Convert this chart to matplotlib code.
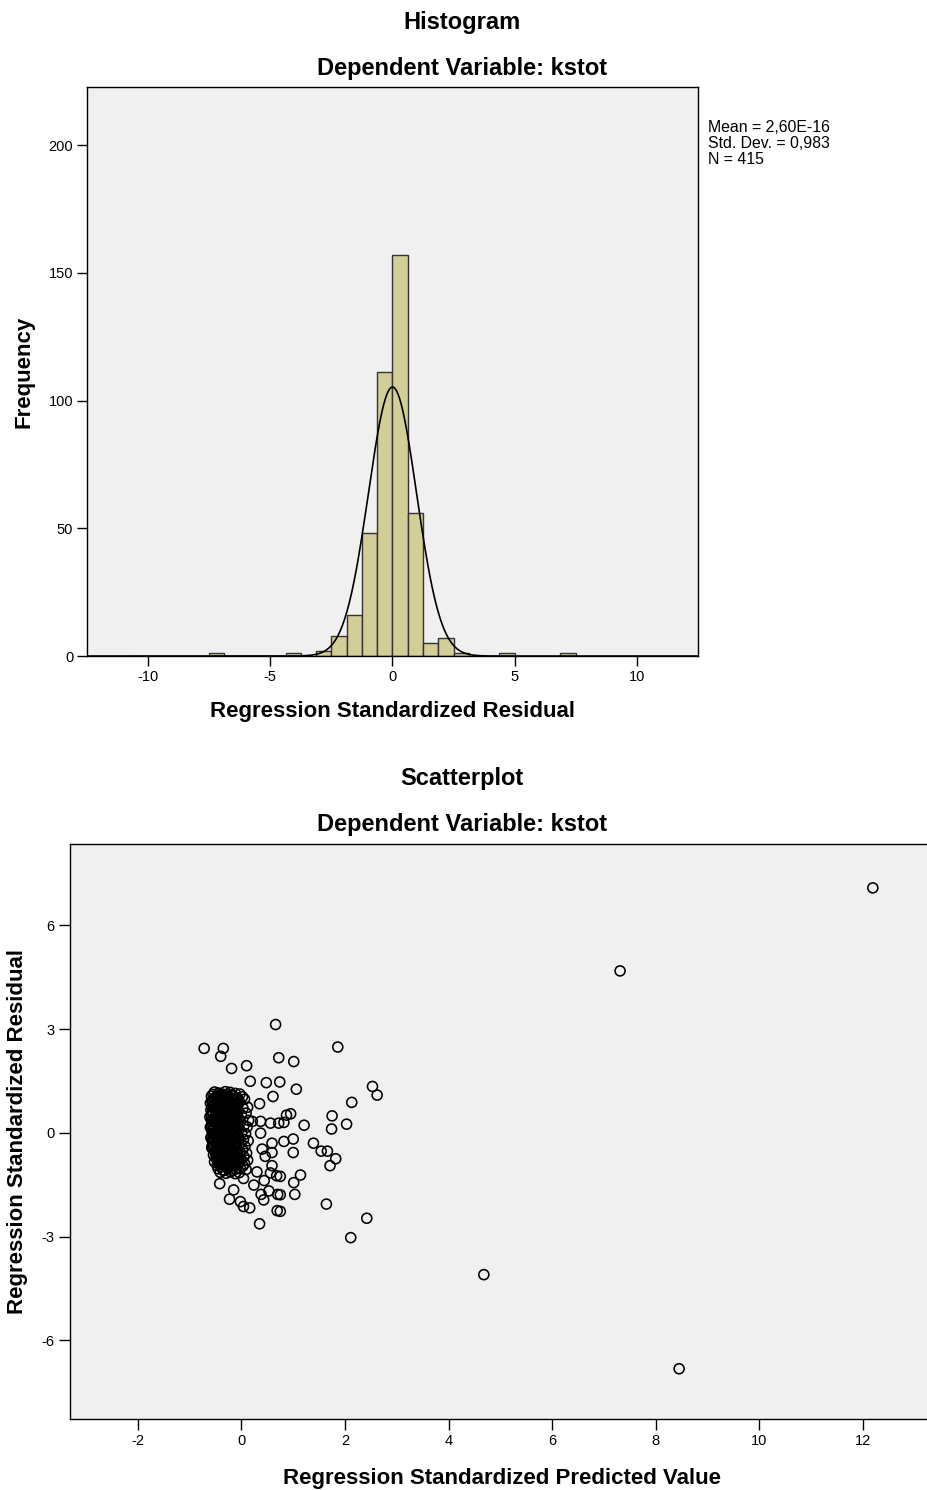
import numpy as np
import matplotlib
matplotlib.use("Agg")
import matplotlib.pyplot as plt

plt.rcParams['font.family'] = ['Liberation Sans', 'DejaVu Sans']
plt.rcParams['axes.unicode_minus'] = False

# histogram of standardized residuals (SPSS output)
bin_width = 0.625
bin_left = [-7.5, -4.375, -3.125, -2.5, -1.875, -1.25, -0.625, 0.0, 0.625, 1.25, 1.875, 2.5, 4.375, 6.875]
bin_count = [1, 1, 2, 8, 16, 48, 111, 157, 56, 5, 7, 1, 1, 1]
res_mean = 2.60e-16
res_sd = 0.983
res_n = 415
hist_xticks = [-10, -5, 0, 5, 10]
hist_yticks = [0, 50, 100, 150, 200]

# scatter: standardized predicted value vs standardized residual
outlier_x = [12.19, 7.31, 4.68, 8.45]
outlier_y = [7.08, 4.68, -4.10, -6.82]

spread_x = [0.66, -0.72, -0.35, -0.40, -0.19, 0.10, 0.72, 1.01, 1.86, 0.17,
            0.48, 0.74, 0.61, 0.35, 1.06, 2.53, 2.62, 2.13, 1.75, 0.95,
            0.87, 2.03, 1.74, 1.21, 0.82, 1.00, 0.82, 1.39, 1.54, 1.66,
            1.82, 1.71, 1.00, 1.14, 1.01, 1.03, 0.75, 0.75, 0.75, 1.64,
            2.42, 2.11, -0.42, -0.15, -0.23, -0.02, 0.04, 0.16, 0.35, 0.69,
            0.70, 0.43, 0.38, 0.53, 0.24, 0.44, 0.68, 0.56, -0.34, 0.04,
            0.30, 0.59, 0.46, 0.59, 0.40, 0.59, 0.37, 0.37, 0.56, 0.72,
            0.21, -0.57, -0.37]
spread_y = [3.13, 2.44, 2.44, 2.21, 1.86, 1.94, 2.17, 2.06, 2.48, 1.49,
            1.45, 1.47, 1.05, 0.84, 1.26, 1.34, 1.09, 0.88, 0.49, 0.55,
            0.51, 0.25, 0.11, 0.22, 0.30, -0.18, -0.25, -0.30, -0.53, -0.53,
            -0.75, -0.95, -0.57, -1.22, -1.44, -1.78, -1.26, -1.79, -2.27, -2.06,
            -2.47, -3.03, -1.47, -1.65, -1.92, -1.99, -2.13, -2.17, -2.63, -2.25,
            -1.78, -1.94, -1.78, -1.68, -1.51, -1.38, -1.24, -1.16, -1.09, -1.32,
            -1.13, -0.95, -0.68, -0.57, -0.47, -0.30, -0.01, 0.33, 0.28, 0.28,
            0.33, -0.40, -0.78]

core_x = [
    -0.52, -0.44, -0.31, -0.22, -0.12, -0.03,
    -0.58, -0.49, -0.40, -0.33, -0.25, -0.16, -0.08, 0.02,
    -0.56, -0.47, -0.42, -0.35, -0.27, -0.19, -0.11, -0.04, 0.06,
    -0.60, -0.51, -0.44, -0.37, -0.29, -0.21, -0.14, -0.06,
    -0.57, -0.50, -0.41, -0.34, -0.26, -0.18, -0.09, 0.03, 0.12,
    -0.59, -0.48, -0.43, -0.36, -0.30, -0.23, -0.15, -0.07,
    -0.55, -0.46, -0.39, -0.32, -0.24, -0.17, -0.10, 0.00, 0.09,
    -0.61, -0.53, -0.45, -0.38, -0.28, -0.20, -0.13, -0.05,
    -0.58, -0.49, -0.42, -0.35, -0.27, -0.19, -0.11, -0.02, 0.14,
    -0.56, -0.47, -0.40, -0.33, -0.25, -0.16, -0.08, 0.05,
    -0.60, -0.52, -0.44, -0.37, -0.29, -0.21, -0.12, -0.04, 0.11,
    -0.57, -0.48, -0.41, -0.34, -0.26, -0.18, -0.10, 0.01,
    -0.55, -0.50, -0.43, -0.36, -0.28, -0.20, -0.13, -0.06, 0.08,
    -0.59, -0.46, -0.39, -0.31, -0.23, -0.15, -0.07, 0.04,
    -0.56, -0.49, -0.42, -0.35, -0.27, -0.19, -0.11, -0.01, 0.13,
    -0.53, -0.45, -0.38, -0.30, -0.22, -0.14, -0.05, 0.07,
    -0.57, -0.48, -0.41, -0.33, -0.25, -0.17, -0.09, 0.02,
    -0.51, -0.44, -0.36, -0.28, -0.20, -0.12, -0.03, 0.10,
    -0.54, -0.46, -0.39, -0.31, -0.23, -0.15, -0.06, 0.05,
    -0.49, -0.42, -0.34, -0.26, -0.18, -0.10, -0.01, 0.12,
    -0.52, -0.44, -0.37, -0.29, -0.21, -0.13, -0.04, 0.06,
    -0.47, -0.40, -0.32, -0.24, -0.16, -0.08, 0.03,
    -0.45, -0.36, -0.27, -0.19, -0.11, -0.02, 0.09,
    -0.41, -0.30, -0.21, -0.12, -0.04,
]
core_y = [
    1.18, 1.15, 1.19, 1.17, 1.14, 1.12,
    1.06, 1.03, 1.08, 1.02, 1.05, 1.07, 1.01, 1.04,
    0.94, 0.97, 0.92, 0.96, 0.93, 0.98, 0.95, 0.91, 0.97,
    0.86, 0.83, 0.88, 0.84, 0.87, 0.82, 0.85, 0.88,
    0.76, 0.73, 0.77, 0.74, 0.72, 0.78, 0.75, 0.71, 0.74,
    0.66, 0.63, 0.67, 0.62, 0.65, 0.68, 0.64, 0.61,
    0.56, 0.53, 0.57, 0.52, 0.55, 0.58, 0.54, 0.51, 0.57,
    0.46, 0.43, 0.47, 0.44, 0.42, 0.48, 0.45, 0.41,
    0.36, 0.33, 0.37, 0.32, 0.35, 0.38, 0.34, 0.31, 0.36,
    0.26, 0.23, 0.27, 0.22, 0.25, 0.28, 0.24, 0.21,
    0.16, 0.13, 0.17, 0.12, 0.15, 0.18, 0.14, 0.11, 0.17,
    0.06, 0.03, 0.07, 0.02, 0.05, 0.08, 0.04, 0.01,
    -0.04, -0.07, -0.03, -0.08, -0.05, -0.02, -0.06, -0.09, -0.03,
    -0.14, -0.17, -0.13, -0.18, -0.15, -0.12, -0.16, -0.19,
    -0.24, -0.27, -0.23, -0.28, -0.25, -0.22, -0.26, -0.29, -0.23,
    -0.34, -0.37, -0.33, -0.38, -0.35, -0.32, -0.36, -0.39,
    -0.44, -0.47, -0.43, -0.48, -0.45, -0.42, -0.46, -0.49,
    -0.54, -0.57, -0.53, -0.58, -0.55, -0.52, -0.56, -0.59,
    -0.64, -0.67, -0.63, -0.68, -0.65, -0.62, -0.66, -0.69,
    -0.74, -0.77, -0.73, -0.78, -0.75, -0.72, -0.76, -0.79,
    -0.84, -0.87, -0.83, -0.88, -0.85, -0.82, -0.86, -0.89,
    -0.94, -0.97, -0.93, -0.98, -0.95, -0.92, -0.96,
    -1.04, -1.07, -1.03, -1.08, -1.05, -1.02, -1.06,
    -1.14, -1.17, -1.13, -1.18, -1.15,
]
core2_x = [
    -0.55, -0.46, -0.37, -0.28, -0.19,
    -0.53, -0.43, -0.34, -0.24, -0.13,
    -0.57, -0.46, -0.38, -0.31, -0.17,
    -0.54, -0.45, -0.33, -0.24, -0.11,
    -0.53, -0.44, -0.32, -0.21, -0.12,
    -0.56, -0.45, -0.34, -0.26, -0.14,
    -0.58, -0.49, -0.36, -0.27, -0.15,
    -0.55, -0.42, -0.32, -0.24, -0.09,
    -0.53, -0.44, -0.30, -0.22, -0.14,
    -0.58, -0.43, -0.36, -0.21, -0.12,
    -0.54, -0.45, -0.33, -0.24, -0.15,
    -0.52, -0.39, -0.31, -0.23, -0.09,
    -0.57, -0.47, -0.34, -0.25, -0.11,
    -0.52, -0.44, -0.35, -0.21, -0.14,
    -0.49, -0.41, -0.33, -0.26, -0.09,
    -0.54, -0.44, -0.29, -0.21, -0.13,
    -0.48, -0.39, -0.32, -0.24, -0.07,
    -0.50, -0.42, -0.27, -0.19, -0.10,
    -0.46, -0.37, -0.30, -0.22, -0.14,
    -0.45, -0.40, -0.31, -0.23, -0.05,
    -0.43, -0.35, -0.28, -0.20, -0.12,
]
core2_y = [
    1.11, 1.09, 1.12, 1.10, 1.08,
    1.00, 0.99, 1.01, 0.98, 1.00,
    0.90, 0.89, 0.91, 0.90, 0.88,
    0.80, 0.81, 0.79, 0.80, 0.82,
    0.70, 0.69, 0.71, 0.70, 0.68,
    0.60, 0.61, 0.59, 0.60, 0.62,
    0.50, 0.49, 0.51, 0.50, 0.48,
    0.40, 0.41, 0.39, 0.40, 0.42,
    0.30, 0.29, 0.31, 0.30, 0.28,
    0.20, 0.21, 0.19, 0.20, 0.22,
    0.10, 0.09, 0.11, 0.10, 0.08,
    0.00, 0.01, -0.01, 0.00, 0.02,
    -0.10, -0.11, -0.09, -0.10, -0.12,
    -0.20, -0.19, -0.21, -0.20, -0.18,
    -0.30, -0.31, -0.29, -0.30, -0.32,
    -0.40, -0.39, -0.41, -0.40, -0.38,
    -0.50, -0.51, -0.49, -0.50, -0.52,
    -0.60, -0.59, -0.61, -0.60, -0.58,
    -0.70, -0.71, -0.69, -0.70, -0.72,
    -0.80, -0.79, -0.81, -0.80, -0.78,
    -0.90, -0.91, -0.89, -0.90, -0.92,
]
scat_xticks = [-2, 0, 2, 4, 6, 8, 10, 12]
scat_yticks = [-6, -3, 0, 3, 6]

bg = '#F0F0F0'
bar_color = '#D3CE97'
title_kw = dict(fontsize=17, fontweight='bold', ha='center')
label_size = 16

fig = plt.figure(figsize=(9.27, 14.9), dpi=100)

# ---- histogram ----
ax1 = fig.add_axes([0.0939, 0.5597, 0.659, 0.3819])
ax1.set_facecolor(bg)
ax1.bar(bin_left, bin_count, width=bin_width, align='edge',
        color=bar_color, edgecolor='#333333', linewidth=1.0, zorder=2)
xs = np.linspace(-12.5, 12.5, 800)
curve = res_n * bin_width / (res_sd * np.sqrt(2 * np.pi)) * np.exp(-0.5 * ((xs - res_mean) / res_sd) ** 2)
ax1.plot(xs, curve, color='black', linewidth=1.2, zorder=3)
ax1.set_xlim(-12.5, 12.5)
ax1.set_ylim(0, 222.7)
ax1.set_xticks(hist_xticks)
ax1.set_yticks(hist_yticks)
ax1.tick_params(direction='out', length=7, width=1, labelsize=10.5, colors='black', pad=3)
for s in ax1.spines.values():
    s.set_linewidth(1.0)
ax1.set_xlabel('Regression Standardized Residual', fontsize=label_size, fontweight='bold', labelpad=12)
ax1.set_ylabel('Frequency', fontsize=label_size, fontweight='bold', labelpad=10)

fig.text(0.4984, 1 - 22 / 1490, 'Histogram', va='center', **title_kw)
fig.text(0.4984, 1 - 68 / 1490, 'Dependent Variable: kstot', va='center', **title_kw)
fig.text(708 / 927, 1 - 120 / 1490,
         'Mean = 2,60E-16\nStd. Dev. = 0,983\nN = 415',
         fontsize=11.4, va='top', ha='left', linespacing=1.08)

# ---- scatterplot ----
ax2 = fig.add_axes([0.0755, 0.0477, 0.932, 0.3859])
ax2.set_facecolor(bg)
all_x = outlier_x + spread_x + core_x + core2_x
all_y = outlier_y + spread_y + core_y + core2_y
ax2.scatter(all_x, all_y, s=52, facecolors='none', edgecolors='black', linewidths=1.15, zorder=3)
ax2.set_xlim(-3.31, 13.37)
ax2.set_ylim(-8.27, 8.35)
ax2.set_xticks(scat_xticks)
ax2.set_yticks(scat_yticks)
ax2.tick_params(direction='out', length=8, width=1, labelsize=10.5, colors='black', pad=3)
for s in ax2.spines.values():
    s.set_linewidth(1.0)
ax2.set_xlabel('Regression Standardized Predicted Value', fontsize=label_size, fontweight='bold', labelpad=14)
ax2.set_ylabel('Regression Standardized Residual', fontsize=label_size, fontweight='bold', labelpad=10)

fig.text(0.4984, 1 - 779 / 1490, 'Scatterplot', va='center', **title_kw)
fig.text(0.4984, 1 - 825 / 1490, 'Dependent Variable: kstot', va='center', **title_kw)

fig.savefig('out.png', dpi=100, facecolor='white')
